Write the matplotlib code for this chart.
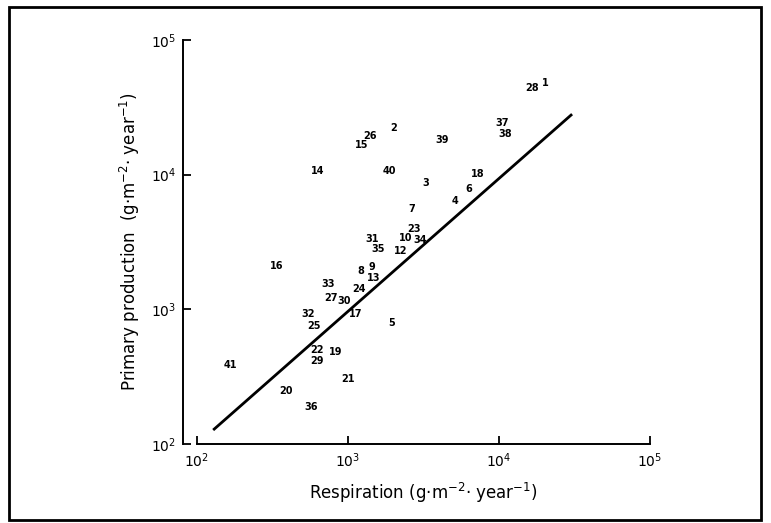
import matplotlib.pyplot as plt
from matplotlib.patches import Rectangle

# point labels and their (respiration, production) values, g m-2 yr-1
labels = ['1', '28', '2', '39', '37', '38', '40', '3', '18', '6', '4', '7',
          '23', '10', '34', '12', '15', '26', '14', '31', '35', '16', '8', '9',
          '13', '33', '24', '27', '30', '17', '32', '25', '5', '22', '19', '29',
          '21', '20', '36', '41']
resp = [20200, 16600, 2020, 4200, 10500, 11000, 1870, 3290, 7260, 6320, 5120, 2650,
        2740, 2420, 3000, 2250, 1240, 1400, 632, 1440, 1580, 339, 1220, 1440,
        1490, 738, 1180, 771, 942, 1130, 543, 596, 1950, 624, 834, 624,
        1000, 388, 569, 166]
prod = [47900, 44000, 22200, 18100, 24200, 20000, 10600, 8670, 10100, 7820, 6370, 5560,
        3950, 3380, 3270, 2710, 16600, 19400, 10600, 3330, 2810, 2090, 1920, 2060,
        1710, 1540, 1420, 1210, 1150, 923, 923, 752, 791, 499, 482, 413,
        304, 247, 188, 385]

# regression line end points
line_x = [130, 30000]
line_y = [129, 27700]

ticks = [1e2, 1e3, 1e4, 1e5]
tick_labels = [r'$10^2$', r'$10^3$', r'$10^4$', r'$10^5$']

fig = plt.figure(figsize=(7.71, 5.23), dpi=100)
ax = fig.add_axes([197/771, 79/523, 453/771, 404/523])

ax.set_xscale('log')
ax.set_yscale('log')
ax.set_xlim(1e2, 1e5)
ax.set_ylim(1e2, 1e5)

ax.plot(line_x, line_y, color='black', lw=2)
for lab, x, y in zip(labels, resp, prod):
    ax.text(x, y, lab, fontsize=7, fontweight='bold', ha='center', va='center')

ax.spines['top'].set_visible(False)
ax.spines['right'].set_visible(False)
ax.spines['left'].set_position(('outward', 10))
for s in ('left', 'bottom'):
    ax.spines[s].set_linewidth(1.4)

ax.set_xticks(ticks)
ax.set_xticklabels(tick_labels)
ax.set_yticks(ticks)
ax.set_yticklabels(tick_labels)
ax.minorticks_off()
ax.tick_params(direction='in', length=6, width=1.3, labelsize=10, pad=5)

ax.set_xlabel('Respiration (g·m$^{-2}$· year$^{-1}$)', fontsize=12, labelpad=8)
ax.set_ylabel('Primary production  (g·m$^{-2}$· year$^{-1}$)', fontsize=12, labelpad=6)

# frame around the whole figure
fig.patches.append(Rectangle((9/771, 3/523), 752/771, 513/523, transform=fig.transFigure,
                             fill=False, edgecolor='black', lw=2))

fig.savefig('out.png', dpi=100)
